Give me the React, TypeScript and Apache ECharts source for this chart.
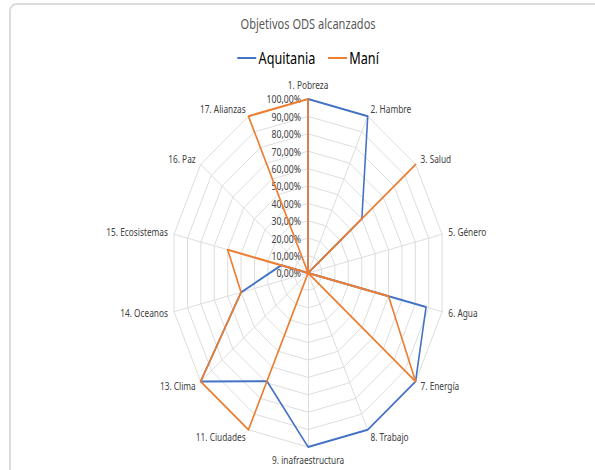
import React, { useEffect, useRef } from "react";
import * as echarts from "echarts";

const titleText = "Objetivos ODS alcanzados";
const indicatorNames = [
  "1. Pobreza",
  "2. Hambre",
  "3. Salud",
  "5. Género",
  "6. Agua",
  "7. Energía",
  "8. Trabajo",
  "9. inafraestructura",
  "11. Ciudades",
  "13. Clima",
  "14. Oceanos",
  "15. Ecosistemas",
  "16. Paz",
  "17. Alianzas",
];
const seriesNames = ["Aquitania", "Maní"];
const aquitania = [100, 100, 50, 0, 88, 100, 100, 100, 69, 100, 50, 20, 0, 0];
const mani = [100, 0, 100, 0, 60, 100, 0, 0, 100, 100, 50, 60, 0, 100];
const maxValue = 100;

const SX = 0.79;
const INNER_W = 780;
const H = 470;

// ECharts radar runs counter-clockwise; keep the first axis on top and reverse the rest
const clockwise = <T,>(arr: T[]): T[] => [arr[0], ...arr.slice(1).reverse()];

export default function App() {
  const ref = useRef<HTMLDivElement>(null);
  useEffect(() => {
    if (!ref.current) return;
    const chart = echarts.init(ref.current, undefined, { renderer: "svg" });
    const font = "Noto Sans";
    chart.setOption({
      animation: false,
      textStyle: { fontFamily: font },
      title: {
        text: titleText,
        left: "center",
        top: 17,
        padding: 0,
        textStyle: { color: "#595959", fontSize: 14, fontWeight: "normal", fontFamily: font },
      },
      legend: {
        data: seriesNames,
        left: "center",
        top: 50,
        padding: 0,
        icon: "rect",
        itemWidth: 24,
        itemHeight: 2,
        itemGap: 16,
        textStyle: { color: "#000000", fontSize: 16, fontFamily: font, padding: [0, 0, 0, -2] },
      },
      radar: {
        center: [390, 273],
        radius: 174,
        startAngle: 90,
        shape: "polygon",
        splitNumber: 10,
        nameGap: 8,
        axisName: { color: "#404040", fontSize: 10.5, fontFamily: font },
        splitLine: { lineStyle: { color: "#d9d9d9", width: 1 } },
        splitArea: { show: false },
        axisLine: { lineStyle: { color: "#d9d9d9", width: 1 } },
        axisTick: { show: false },
        axisLabel: { show: false },
        indicator: clockwise(indicatorNames).map((name, i) =>
          i === 0
            ? {
                name,
                min: 0,
                max: maxValue,
                axisLabel: {
                  show: true,
                  color: "#404040",
                  fontSize: 11,
                  fontFamily: font,
                  margin: 9,
                  align: "right",
                  showMinLabel: true,
                  showMaxLabel: true,
                  formatter: (v: number) => v.toFixed(2).replace(".", ",") + "%",
                },
              }
            : { name, min: 0, max: maxValue }
        ),
      },
      series: [
        {
          type: "radar",
          symbol: "none",
          data: [
            {
              name: seriesNames[0],
              value: clockwise(aquitania),
              lineStyle: { color: "#4472C4", width: 2 },
              itemStyle: { color: "#4472C4" },
            },
            {
              name: seriesNames[1],
              value: clockwise(mani),
              lineStyle: { color: "#ED7D31", width: 2 },
              itemStyle: { color: "#ED7D31" },
            },
          ],
        },
      ],
    });
    return () => chart.dispose();
  }, []);

  return (
    <div
      style={{
        position: "absolute",
        left: 0,
        top: 0,
        width: 595,
        height: H,
        overflow: "hidden",
        background: "#ffffff",
      }}
    >
      <div
        style={{
          position: "absolute",
          left: 9,
          top: 3,
          width: 640,
          height: 520,
          border: "2px solid #dcdcdc",
          borderRadius: 8,
          boxSizing: "border-box",
        }}
      />
      <div
        ref={ref}
        style={{
          position: "absolute",
          left: 0,
          top: 0,
          width: INNER_W,
          height: H,
          transform: `scaleX(${SX})`,
          transformOrigin: "0 0",
        }}
      />
    </div>
  );
}
